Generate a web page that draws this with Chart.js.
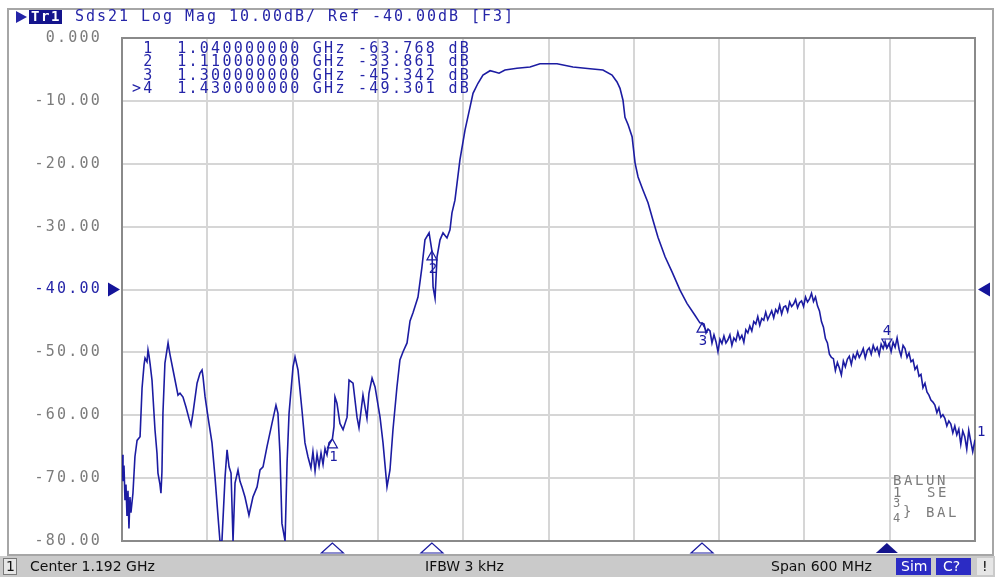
<!DOCTYPE html>
<html>
<head>
<meta charset="utf-8">
<script src="https://cdn.jsdelivr.net/npm/chart.js@4"></script>
<style>
  html, body { margin: 0; padding: 0; background: #fff; }
</style>
</head>
<body>
<canvas id="trace-chart" width="995" height="577"></canvas>
<script>
// Sds21 trace
const freqMHz = [
  892, 892.7, 893.4, 894.1, 894.8, 895.5, 896.2, 896.9, 897.6, 898.3,
  899.7, 901.1, 902.6, 904.7, 906.1, 907.5, 908.2, 909.6, 910.3, 911.0,
  911.7, 913.1, 915.2, 916.6, 917.3, 918.7, 919.4, 920.1, 920.8, 922.2,
  924.4, 925.1, 925.8, 927.9, 931.4, 932.8, 934.9, 937.0, 939.1, 940.5,
  941.9, 944.8, 946.9, 948.3, 949.0, 950.4, 952.5, 955.3, 957.4, 959.5,
  960.9, 962.3, 964.5, 965.9, 967.3, 968.7, 970.1, 971.5, 973.6, 975.0,
  976.4, 978.5, 981.3, 984.1, 987.0, 989.1, 991.2, 994.0, 997.5, 1000.3,
  1001.7, 1003.1, 1004.5, 1006.7, 1008.1, 1009.5, 1012.3, 1013.7, 1015.8, 1018.6,
  1020.7, 1022.8, 1024.9, 1026.3, 1027.8, 1029.2, 1030.6, 1032.0, 1033.4, 1034.8,
  1036.2, 1037.6, 1040, 1041.1, 1041.8, 1043.2, 1045.3, 1047.5, 1050.3, 1051.7,
  1054.5, 1057.3, 1058.7, 1061.5, 1064.3, 1065.7, 1067.9, 1070.0, 1073.5, 1075.6,
  1078.4, 1080.5, 1082.6, 1085.4, 1087.5, 1089.7, 1092.5, 1094.6, 1096.7, 1100.2,
  1103.0, 1105.1, 1108.0, 1110, 1110.8, 1112.2, 1113.6, 1115.7, 1117.8, 1120.6,
  1122.7, 1124.1, 1126.2, 1129.7, 1133.3, 1136.8, 1138.9, 1142.4, 1145.9, 1150.9,
  1154.4, 1157.2, 1161.4, 1169.8, 1179.0, 1186.0, 1198.0, 1209.2, 1221.2, 1230.3,
  1236.7, 1240.2, 1242.3, 1244.4, 1245.8, 1248.0, 1250.8, 1252.9, 1255.0, 1258.5,
  1262.0, 1265.5, 1269.0, 1274.0, 1278.9, 1284.5, 1289.4, 1295.0, 1298.5, 1300,
  1301.4, 1302.8, 1304.2, 1305.6, 1307.0, 1308.4, 1309.8, 1311.2, 1312.6, 1314.0,
  1315.4, 1316.8, 1318.2, 1319.6, 1321.0, 1322.4, 1323.8, 1325.2, 1326.6, 1328.0,
  1329.4, 1330.8, 1332.2, 1333.6, 1335.0, 1336.4, 1337.8, 1339.2, 1340.6, 1342.0,
  1343.4, 1344.8, 1346.2, 1347.6, 1349.0, 1350.4, 1351.8, 1353.2, 1354.6, 1356.0,
  1357.4, 1358.8, 1360.2, 1361.6, 1363.0, 1364.4, 1365.8, 1367.2, 1368.6, 1370.0,
  1371.4, 1372.8, 1374.2, 1375.6, 1377.0, 1378.4, 1379.8, 1381.2, 1382.6, 1384.0,
  1385.4, 1386.8, 1388.2, 1389.6, 1391.0, 1392.4, 1393.8, 1395.2, 1396.6, 1398.0,
  1399.4, 1400.8, 1402.2, 1403.6, 1405.0, 1406.4, 1407.8, 1409.2, 1410.6, 1412.0,
  1413.4, 1414.8, 1416.2, 1417.6, 1419.0, 1420.4, 1421.8, 1423.2, 1424.6, 1426.0,
  1427.4, 1428.8, 1430, 1431.6, 1433.0, 1434.4, 1435.8, 1437.2, 1438.6, 1440.0,
  1441.4, 1442.8, 1444.2, 1445.6, 1447.0, 1448.4, 1449.8, 1451.2, 1452.6, 1454.0,
  1455.4, 1456.8, 1458.2, 1459.6, 1461.0, 1462.4, 1463.8, 1465.2, 1466.6, 1468.0,
  1469.4, 1470.8, 1472.2, 1473.6, 1475.0, 1476.4, 1477.8, 1479.2, 1480.6, 1482.0,
  1483.4, 1484.8, 1486.2, 1487.6, 1489.0, 1490.4, 1492
];
const magDb = [
  -66.3, -70.5, -68, -73.5, -71, -76, -72, -78, -73, -75.5,
  -72.4, -66.6, -64, -63.4, -55.7, -52, -50.9, -51.5, -49.6, -50.5,
  -51.7, -54.4, -62.3, -66, -69.2, -71, -72.4, -69, -59.7, -51.7,
  -48.5, -49.5, -50.4, -52.8, -56.8, -56.5, -57.1, -58.7, -60.5, -61.6,
  -59.7, -54.9, -53.3, -52.8, -53.9, -57, -60.3, -64.4, -69.8, -76,
  -80, -80, -69.8, -65.5, -68.2, -69.2, -80, -70.8, -68.7, -70.5,
  -71.4, -73, -75.9, -73, -71.4, -68.7, -68.2, -65, -61.3, -58.4,
  -59.7, -66, -77.2, -80, -67.6, -59.7, -52.3, -50.7, -52.8, -59.2,
  -64.4, -66.6, -68.4, -65.8, -68.9, -66.2, -68.1, -66.0, -67.8, -65.3,
  -66.3, -64.4, -63.768, -61.8, -57.1, -58.1, -61.3, -62.3, -60.3, -54.4,
  -54.9, -60.3, -62, -56.8, -60.5, -56.5, -54.1, -55.5, -60.3, -64.4,
  -71.4, -68.7, -62.3, -55.5, -51.2, -49.9, -48.5, -45, -43.7, -41.2,
  -36.4, -32.1, -31, -33.861, -39.6, -41.4, -34.8, -32.1, -31, -31.8,
  -30.5, -27.8, -25.8, -19.4, -14.6, -11, -8.8, -7.2, -5.9, -5.2,
  -5.4, -5.6, -5.1, -4.8, -4.6, -4.1, -4.1, -4.6, -4.9, -5.1,
  -5.9, -7, -8, -9.9, -12.6, -13.8, -15.7, -19.9, -22.1, -24.2,
  -26.2, -29, -31.7, -34.8, -37.2, -40.1, -42.2, -44.1, -45.3, -45.342,
  -45.5, -46.9, -46.3, -46.6, -48.5, -47.2, -48.3, -49.9, -47.9, -48.6,
  -47.4, -48.5, -48.0, -47.2, -48.9, -47.7, -48.2, -46.8, -47.9, -47.3,
  -48.4, -46.4, -46.9, -45.8, -46.6, -45.1, -45.5, -44.3, -45.7, -44.6,
  -44.9, -43.6, -44.8, -44.1, -43.4, -44.5, -43.2, -43.7, -42.5, -43.9,
  -42.8, -42.6, -43.5, -42.0, -42.7, -42.3, -41.6, -42.9, -42.1, -41.8,
  -42.7, -41.2, -42.0, -41.5, -40.6, -41.9, -41.2, -42.6, -43.4, -45.1,
  -46.0, -47.8, -48.5, -50.3, -50.8, -51.0, -52.9, -51.6, -52.5, -53.6,
  -51.4, -52.3, -51.1, -50.6, -51.9, -50.4, -51.0, -49.9, -50.8, -50.2,
  -49.4, -50.9, -49.7, -49.3, -50.3, -48.9, -49.8, -49.2, -50.4, -48.7,
  -49.4, -48.3, -49.301, -48.6, -49.9, -48.4, -49.2, -47.7, -49.5, -50.6,
  -48.9, -49.4, -50.8, -50.1, -51.5, -51.2, -52.7, -52.2, -53.8, -53.5,
  -55.6, -54.9, -56.3, -56.8, -57.6, -57.9, -58.4, -59.6, -58.8, -60.3,
  -59.9, -60.5, -61.7, -60.9, -61.4, -62.8, -61.7, -63.1, -62.2, -64.6,
  -62.5, -63.4, -65.4, -62.4, -64.1, -65.8, -63.9
];

const xGridMHz = [892, 952, 1012, 1072, 1132, 1192, 1252, 1312, 1372, 1432, 1492];
const yTicksDb = [0, -10, -20, -30, -40, -50, -60, -70, -80];
const refLevel = -40;

const markerFreqs = [1040, 1110, 1300, 1430];
const markerVals = [-63.768, -33.861, -45.342, -49.301];
const activeMarker = 3;

const traceBlue = '#1c1ca2';
const textBlue = '#2525a8';
const labelGray = '#7c7c7c';
const monoFont = '15px "DejaVu Sans Mono"';

function monoText(ctx, str, x, y, pitch) {
  for (let i = 0; i < str.length; i++) {
    ctx.fillText(str[i], x + i * pitch, y);
  }
}

const analyzerPlugin = {
  id: 'analyzer',
  beforeDraw(chart) {
    const ctx = chart.ctx;
    ctx.save();
    ctx.fillStyle = '#fff';
    ctx.fillRect(0, 0, chart.width, chart.height);
    // outer frame
    ctx.strokeStyle = '#a6a6a6';
    ctx.lineWidth = 2;
    ctx.strokeRect(8, 9, 985, 546);
    ctx.restore();
    ctx.letterSpacing = '2.2px';
  },
  beforeDatasetsDraw(chart) {
    const ctx = chart.ctx;
    const a = chart.chartArea;
    ctx.save();
    ctx.strokeStyle = '#8a8a8a';
    ctx.lineWidth = 2;
    ctx.strokeRect(a.left, a.top, a.right - a.left, a.bottom - a.top);
    ctx.restore();
  },
  afterDraw(chart) {
    const ctx = chart.ctx;
    const xs = chart.scales.x;
    const ys = chart.scales.y;
    const a = chart.chartArea;
    ctx.save();
    ctx.letterSpacing = '0px';
    ctx.textBaseline = 'middle';
    ctx.textAlign = 'left';

    // title line
    ctx.fillStyle = textBlue;
    ctx.beginPath();
    ctx.moveTo(16, 11); ctx.lineTo(27, 17); ctx.lineTo(16, 23); ctx.closePath();
    ctx.fill();
    ctx.fillStyle = '#14148c';
    ctx.fillRect(29, 10, 33, 14);
    ctx.fillStyle = '#fff';
    ctx.font = 'bold 14px "DejaVu Sans Mono"';
    monoText(ctx, 'Tr1', 31, 17.5, 10);
    ctx.fillStyle = textBlue;
    ctx.font = monoFont;
    monoText(ctx, 'Sds21 Log Mag 10.00dB/ Ref ' + refLevel.toFixed(2) + 'dB [F3]', 75, 17.5, 11);

    // marker table
    const rowY = [49, 62.5, 76, 89.5];
    markerFreqs.forEach((f, i) => {
      const lead = i === activeMarker ? '>' : ' ';
      const row = lead + (i + 1) + '  ' + (f / 1000).toFixed(9) + ' GHz ' +
        markerVals[i].toFixed(3) + ' dB';
      monoText(ctx, row, 132, rowY[i], 11.3);
    });

    // reference level arrows
    const yr = ys.getPixelForValue(refLevel);
    ctx.fillStyle = '#14149a';
    ctx.beginPath();
    ctx.moveTo(108, yr - 7); ctx.lineTo(120, yr); ctx.lineTo(108, yr + 7); ctx.closePath();
    ctx.fill();
    ctx.beginPath();
    ctx.moveTo(990, yr - 7); ctx.lineTo(978, yr); ctx.lineTo(990, yr + 7); ctx.closePath();
    ctx.fill();

    // markers on the trace
    ctx.strokeStyle = traceBlue;
    ctx.fillStyle = traceBlue;
    ctx.lineWidth = 1.2;
    ctx.font = '14px "DejaVu Sans Mono"';
    ctx.textAlign = 'center';
    markerFreqs.forEach((f, i) => {
      const px = xs.getPixelForValue(f);
      const py = ys.getPixelForValue(markerVals[i]);
      ctx.beginPath();
      if (i === activeMarker) {
        ctx.moveTo(px, py); ctx.lineTo(px - 5, py - 9); ctx.lineTo(px + 5, py - 9);
        ctx.closePath(); ctx.stroke();
        ctx.fillText(String(i + 1), px, py - 17);
      } else {
        ctx.moveTo(px, py); ctx.lineTo(px - 5, py + 9); ctx.lineTo(px + 5, py + 9);
        ctx.closePath(); ctx.stroke();
        ctx.fillText(String(i + 1), px + 1, py + 18);
      }
      // bottom marker triangles
      ctx.beginPath();
      ctx.moveTo(px, 543); ctx.lineTo(px - 11, 553); ctx.lineTo(px + 11, 553);
      ctx.closePath();
      if (i === activeMarker) {
        ctx.fillStyle = '#14148c';
        ctx.fill();
        ctx.fillStyle = traceBlue;
      } else {
        ctx.stroke();
      }
    });
    ctx.textAlign = 'left';
    ctx.fillText('1', a.right + 2, 432);

    // balun info
    ctx.fillStyle = labelGray;
    ctx.font = '14px "DejaVu Sans Mono"';
    monoText(ctx, 'BALUN', 893, 481, 11);
    monoText(ctx, '1', 893, 493, 11);
    monoText(ctx, 'SE', 927, 493, 11);
    ctx.font = '12px "DejaVu Sans Mono"';
    ctx.fillText('3', 893, 504);
    ctx.fillText('4', 893, 519);
    ctx.font = '14px "DejaVu Sans Mono"';
    ctx.fillText('}', 903, 512);
    monoText(ctx, 'BAL', 926, 513, 11);

    // status bar
    ctx.fillStyle = '#cacaca';
    ctx.fillRect(0, 556, chart.width, 21);
    ctx.fillStyle = '#e6e6e6';
    ctx.fillRect(3, 558, 14, 17);
    ctx.strokeStyle = '#7a7a7a';
    ctx.lineWidth = 1;
    ctx.strokeRect(3.5, 558.5, 13, 16);
    ctx.fillStyle = '#101010';
    ctx.font = '14px "DejaVu Sans"';
    ctx.fillText('1', 6, 567);
    ctx.fillText('Center 1.192 GHz', 30, 567);
    ctx.fillText('IFBW 3 kHz', 425, 567);
    ctx.fillText('Span 600 MHz', 771, 567);
    ctx.fillStyle = '#2b2bc4';
    ctx.fillRect(896, 558, 35, 17);
    ctx.fillRect(936, 558, 35, 17);
    ctx.fillStyle = '#fff';
    ctx.fillText('Sim', 901, 567);
    ctx.fillText('C?', 943, 567);
    ctx.fillStyle = '#e6e6e6';
    ctx.fillRect(977, 558, 16, 17);
    ctx.fillStyle = '#101010';
    ctx.fillText('!', 982, 567);
    ctx.restore();
  }
};

new Chart(document.getElementById('trace-chart'), {
  type: 'line',
  data: {
    datasets: [{
      label: 'Sds21',
      data: freqMHz.map((f, i) => ({ x: f, y: magDb[i] })),
      borderColor: traceBlue,
      borderWidth: 1.6,
      pointRadius: 0,
      tension: 0,
      fill: false
    }]
  },
  options: {
    responsive: false,
    animation: false,
    events: [],
    layout: { padding: { left: 0, top: 38, right: 20, bottom: 36 } },
    plugins: { legend: { display: false }, tooltip: { enabled: false } },
    scales: {
      x: {
        type: 'linear',
        min: 892,
        max: 1492,
        afterBuildTicks: (scale) => { scale.ticks = xGridMHz.map(v => ({ value: v })); },
        afterFit: (scale) => { scale.height = 0; },
        ticks: { display: false },
        grid: { color: '#d6d6d6', lineWidth: 2, drawTicks: false },
        border: { display: false }
      },
      y: {
        type: 'linear',
        min: -80,
        max: 0,
        afterBuildTicks: (scale) => { scale.ticks = yTicksDb.map(v => ({ value: v })); },
        afterFit: (scale) => { scale.width = 122; },
        ticks: {
          padding: 20,
          font: { family: 'DejaVu Sans Mono', size: 15 },
          color: (c) => c.tick && c.tick.value === refLevel ? textBlue : labelGray,
          callback: (v) => v === 0 ? '0.000' : v.toFixed(2)
        },
        grid: { color: '#d6d6d6', lineWidth: 2, drawTicks: false },
        border: { display: false }
      }
    }
  },
  plugins: [analyzerPlugin]
});
</script>
</body>
</html>
